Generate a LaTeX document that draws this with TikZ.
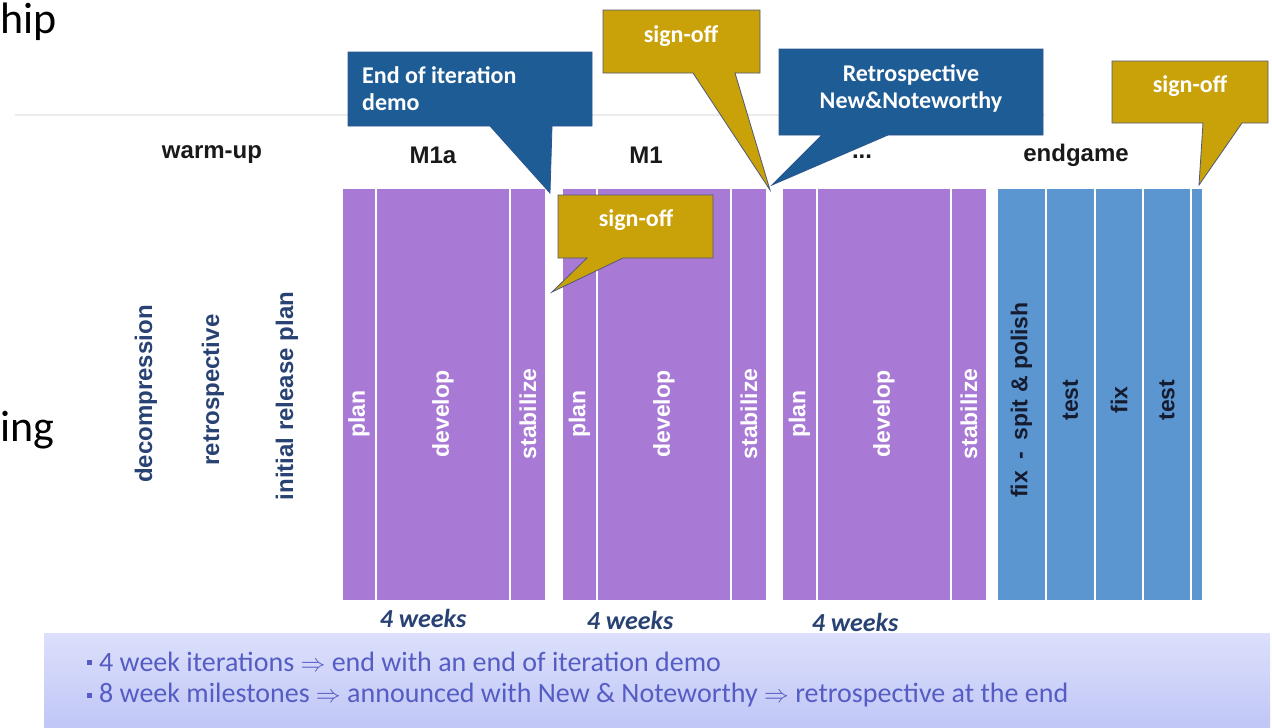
\documentclass[tikz,border=0pt]{standalone}
\usepackage{fontspec}
\setmainfont{Carlito}
\newfontfamily\arialf{Liberation Sans}
\definecolor{purp}{RGB}{168,122,214}
\definecolor{egblue}{RGB}{92,150,208}
\definecolor{cblue}{RGB}{30,92,150}
\definecolor{cblueedge}{RGB}{45,85,140}
\definecolor{cgold}{RGB}{201,161,8}
\definecolor{cgoldedge}{RGB}{80,90,120}
\definecolor{leftblue}{RGB}{40,66,115}
\definecolor{txtnavy}{RGB}{22,28,48}
\definecolor{bultxt}{RGB}{85,92,195}
\definecolor{boxtop}{RGB}{220,224,252}
\definecolor{boxbot}{RGB}{192,198,246}
\tikzset{
  segp/.style={fill=purp, draw=white, line width=1.6pt},
  sege/.style={fill=egblue, draw=white, line width=1.6pt},
  blocktext/.style={rotate=90, text=white, font=\arialf\bfseries\fontsize{23}{26}\selectfont, inner sep=0pt},
  egtext/.style={rotate=90, text=txtnavy, font=\arialf\bfseries\fontsize{23}{26}\selectfont, inner sep=0pt},
  lefttext/.style={rotate=90, text=leftblue, font=\arialf\bfseries\fontsize{24}{27}\selectfont, inner sep=0pt},
  header/.style={text=black!90, font=\arialf\bfseries\fontsize{24}{27}\selectfont, inner sep=0pt},
  weeks/.style={text=leftblue, font=\bfseries\itshape\fontsize{26}{28}\selectfont, inner sep=0pt},
  calloutb/.style={fill=cblue, draw=cblueedge, line width=0.8pt, line join=miter},
  calloutg/.style={fill=cgold, draw=cgoldedge, line width=0.8pt, line join=miter},
  calltext/.style={text=white, font=\bfseries\fontsize{24}{27}\selectfont, inner sep=0pt},
  bullettext/.style={text=bultxt, font=\fontsize{28}{30}\selectfont, inner sep=0pt, anchor=west},
  bulletmark/.style={fill=bultxt, minimum size=5pt, inner sep=0pt},
  bigtext/.style={text=black, font=\fontsize{44}{46}\selectfont, inner sep=0pt, anchor=base west}
}
\begin{document}
\begin{tikzpicture}[x=1pt,y=-1pt]
\useasboundingbox (0,0) rectangle (1272,728);
\fill[white] (0,0) rectangle (1272,728);

% faint guide line
\draw[black!8, line width=1.5pt] (15,115) -- (1045,115);

% partial slide words
\node[bigtext] (hip) at (0,33) {hip};
\node[bigtext] (ing) at (0,441) {ing};

% headers
\node[header] (hwarm) at (212,155) {warm-up};
\node[header] (hm1a) at (433,155) {M1a};
\node[header] (hm1) at (646,155) {M1};
\node[header] (hdots) at (862,157) {...};
\node[header] (hend) at (1076,155) {endgame};

% warm-up texts
\node[lefttext] (decomp) at (146,394) {decompression};
\node[lefttext] (retro) at (213,390) {retrospective};
\node[lefttext] (irp) at (287,396) {initial release plan};

% iteration blocks
\foreach \n/\a/\b/\t in {p1/342/376/plan, d1/376/510/develop, s1/510/546/stabilize,
                         p2/562/597/plan, d2/597/731/develop, s2/731/767/stabilize,
                         p3/782/817/plan, d3/817/951/develop, s3/951/987/stabilize}{
  \draw[segp] (\a,188) rectangle (\b,601);
  \node[blocktext] (\n) at ({(\a+\b)/2},414) {\t};
}
% endgame blocks
\foreach \n/\a/\b/\t in {e1/997/1046/{fix\enspace-\enspace spit \& polish}, e2/1046/1095/test,
                         e3/1095/1143/fix, e4/1143/1191/test}{
  \draw[sege] (\a,188) rectangle (\b,601);
  \node[egtext] (\n) at ({(\a+\b)/2},400) {\t};
}
\draw[sege] (1191,188) rectangle (1203,601);

% 4 weeks
\node[weeks] (w1) at (423,618) {4 weeks};
\node[weeks] (w2) at (630,620) {4 weeks};
\node[weeks] (w3) at (855,622) {4 weeks};

% bottom box
\shade[top color=boxtop, bottom color=boxbot] (44,633) rectangle (1270,728);
\node[bulletmark] (b1) at (89,662) {};
\node[bulletmark] (b2) at (89,695) {};
\node[bullettext] (l1) at (99,662) {4 week iterations $\Rightarrow$ end with an end of iteration demo};
\node[bullettext] (l2) at (99,695) {8 week milestones $\Rightarrow$ announced with New \& Noteworthy $\Rightarrow$ retrospective at the end};

% callout 1: End of iteration demo
\coordinate (t1) at (550,193);
\draw[calloutb] (348,52) -- (592,52) -- (592,126) -- (552,126) -- (t1) -- (490,126) -- (348,126) -- cycle;
\node[calltext, anchor=west, align=left] (c1) at (362,89) {End of iteration\\demo};

% callout 2: top sign-off
\coordinate (t2) at (770,190);
\draw[calloutg] (603,10) -- (760,10) -- (760,73) -- (735,73) -- (t2) -- (693,73) -- (603,73) -- cycle;
\node[calltext] (c2) at (681,36) {sign-off};

% callout 3: lower sign-off
\coordinate (t3) at (552,292);
\draw[calloutg] (558,195) -- (713,195) -- (713,258) -- (623,258) -- (t3) -- (587,258) -- (558,258) -- cycle;
\node[calltext] (c3) at (636,220) {sign-off};

% callout 4: Retrospective
\coordinate (t4) at (772,185);
\draw[calloutb] (779,49) -- (1043,49) -- (1043,135) -- (888,135) -- (t4) -- (822,135) -- (779,135) -- cycle;
\node[calltext, align=center] (c4) at (911,88) {Retrospective\\New\&Noteworthy};

% callout 5: right sign-off
\coordinate (t5) at (1199,185);
\draw[calloutg] (1112,61) -- (1268,61) -- (1268,123) -- (1242,123) -- (t5) -- (1203,123) -- (1112,123) -- cycle;
\node[calltext] (c5) at (1190,86) {sign-off};
\end{tikzpicture}
\end{document}
